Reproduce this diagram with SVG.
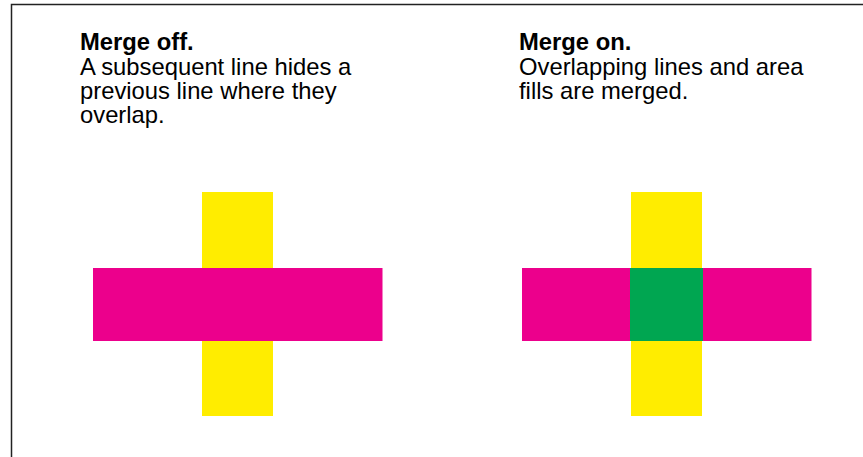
<svg xmlns="http://www.w3.org/2000/svg" width="863" height="457" viewBox="0 0 863 457">
<style>
text{font-family:"Liberation Sans",Arial,sans-serif;font-size:23.8px;fill:#000}
.b{font-weight:bold}
.y{fill:#FFED00}
.m{fill:#EC008C}
.g{fill:#00A651}
</style>
<rect width="863" height="457" fill="#fff"/>
<path d="M11.5,457 V4.5 H863" fill="none" stroke="#222" stroke-width="1.5"/>
<g id="left-caption">
<text x="80" y="50" class="b">Merge off.</text>
<text x="80" y="75">A subsequent line hides a</text>
<text x="80" y="99">previous line where they</text>
<text x="80" y="123">overlap.</text>
</g>
<g id="right-caption">
<text x="519" y="50" class="b">Merge on.</text>
<text x="519" y="75">Overlapping lines and area</text>
<text x="519" y="99">fills are merged.</text>
</g>
<g id="merge-off">
<rect class="y" x="202" y="192" width="71" height="224"/>
<rect class="m" x="93" y="268" width="289.5" height="73"/>
</g>
<g id="merge-on">
<rect class="y" x="631" y="192" width="71" height="224"/>
<rect class="m" x="522" y="268" width="289.5" height="73"/>
<rect class="g" x="630" y="268" width="73" height="73"/>
</g>
</svg>
